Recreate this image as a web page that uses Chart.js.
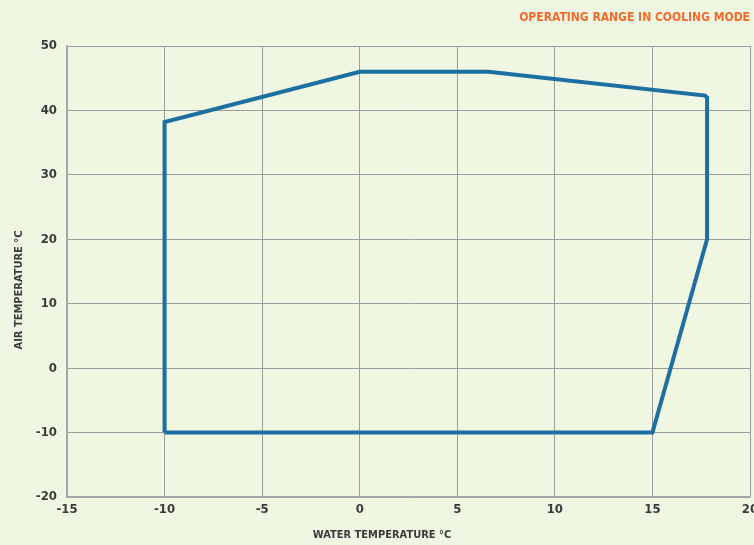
<!DOCTYPE html>
<html>
<head>
<meta charset="utf-8">
<script src="https://cdn.jsdelivr.net/npm/chart.js@4"></script>
<style>
  html, body { margin: 0; padding: 0; background: #eff6e2; }
  #wrap { width: 754px; height: 545px; }
</style>
</head>
<body>
<div id="wrap"><canvas id="rangeChart"></canvas></div>
<script>
// operating envelope, walked round clockwise from bottom-left
const waterTemps = [-10, -10, 0, 6.6, 17.7, 17.8, 17.8, 15, -10];
const airTemps = [-10, 38.2, 46, 46, 42.3, 42, 20, -10, -10];

const xTicks = [-15, -10, -5, 0, 5, 10, 15, 20];
const yTicks = [-20, -10, 0, 10, 20, 30, 40, 50];

const xTitle = 'WATER TEMPERATURE °C';
const yTitle = 'AIR TEMPERATURE °C';

const fontFamily = '"DejaVu Sans Condensed", "Liberation Sans Narrow", sans-serif';
const labelFont = { family: fontFamily, weight: 'bold', size: 13 };
const textColor = '#3a3a3a';
const gridColor = '#9c9c9c';

const points = waterTemps.map((x, i) => ({ x: x, y: airTemps[i] }));

// axis titles sit a little off-centre in the original, so draw them by hand
const axisTitles = {
  id: 'axisTitles',
  afterDraw(chart) {
    const ctx = chart.ctx;
    ctx.save();
    ctx.fillStyle = textColor;
    ctx.font = 'bold 11px ' + fontFamily;
    ctx.textAlign = 'center';
    ctx.textBaseline = 'middle';
    ctx.fillText(xTitle, 382, 535);
    ctx.translate(19, 290);
    ctx.rotate(-Math.PI / 2);
    ctx.fillText(yTitle, 0, 0);
    ctx.restore();
  }
};

new Chart(document.getElementById('rangeChart').getContext('2d'), {
  type: 'scatter',
  data: {
    datasets: [{
      data: points,
      showLine: true,
      borderColor: '#1b6fa1',
      borderWidth: 4,
      pointRadius: 0,
      fill: false,
      tension: 0
    }]
  },
  options: {
    responsive: true,
    maintainAspectRatio: false,
    animation: false,
    layout: { padding: { left: 0, right: 4, top: 0, bottom: 0 } },
    plugins: {
      legend: { display: false },
      tooltip: { enabled: false },
      title: {
        display: true,
        text: 'OPERATING RANGE IN COOLING MODE',
        align: 'end',
        color: '#f26b2b',
        font: { family: fontFamily, weight: 'bold', size: 12, lineHeight: 1.2 },
        padding: { top: 11, bottom: 20.6 }
      }
    },
    scales: {
      x: {
        type: 'linear',
        min: -15,
        max: 20,
        afterBuildTicks: (axis) => { axis.ticks = xTicks.map(v => ({ value: v })); },
        afterFit: (axis) => { axis.height = 48; axis.paddingLeft = 0; axis.paddingRight = 0; },
        grid: { color: gridColor, lineWidth: 1, drawTicks: false },
        border: { color: '#a8a8a8', width: 1.5 },
        ticks: { color: textColor, font: labelFont, padding: 5, maxRotation: 0 }
      },
      y: {
        type: 'linear',
        min: -20,
        max: 50,
        afterBuildTicks: (axis) => { axis.ticks = yTicks.map(v => ({ value: v })); },
        afterFit: (axis) => { axis.width = 67; axis.paddingTop = 0; axis.paddingBottom = 0; },
        grid: { color: gridColor, lineWidth: 1, drawTicks: false },
        border: { color: '#a8a8a8', width: 1.5 },
        ticks: { color: textColor, font: labelFont, padding: 10 }
      }
    }
  },
  plugins: [axisTitles]
});
</script>
</body>
</html>
